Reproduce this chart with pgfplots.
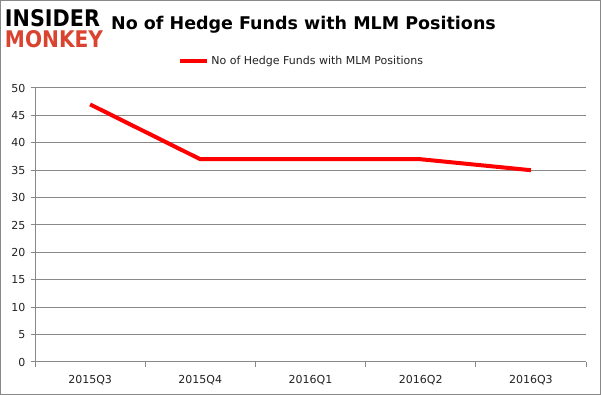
\documentclass[border=0pt]{standalone}
\usepackage{fontspec}
\setmainfont{DejaVu Sans}
\usepackage{graphicx}
\usepackage{pgfplots}
\pgfplotsset{compat=1.18}
\definecolor{gridgray}{HTML}{888888}
\definecolor{monkeyred}{HTML}{D9432F}
\definecolor{ticktext}{HTML}{222222}
\begin{document}
\begin{tikzpicture}[x=1pt,y=1pt]
\useasboundingbox (0pt,0pt) rectangle (601pt,395pt);
\fill[white] (0pt,0pt) rectangle (601pt,395pt);
\draw[gridgray,line width=1pt] (0.5pt,0.5pt) rectangle (600.5pt,394.5pt);
% logo
\node[inner sep=0pt] at (52.5pt,377pt) {\resizebox{95pt}{17pt}{\bfseries INSIDER}};
\node[inner sep=0pt] at (54pt,356pt) {\resizebox{98pt}{17pt}{\bfseries\color{monkeyred}MONKEY}};
% title
\node at (303.5pt,370.5pt) {\fontsize{17.5}{20}\selectfont\bfseries No of Hedge Funds with MLM Positions};
\begin{axis}[
  at={(35pt,33pt)}, anchor=south west,
  scale only axis, width=551pt, height=274pt,
  xmin=-0.5, xmax=4.5, ymin=0, ymax=50,
  axis x line*=bottom, axis y line*=left,
  axis line style={gridgray, line width=1pt},
  xtick={0,1,2,3,4},
  xticklabels={2015Q3,2015Q4,2016Q1,2016Q2,2016Q3},
  minor xtick={-0.5,0.5,1.5,2.5,3.5,4.5},
  major x tick style={draw=none},
  minor x tick style={gridgray, line width=1pt},
  minor tick length=5pt,
  ytick={0,5,...,50},
  major y tick style={gridgray, line width=1pt},
  major tick length=4pt,
  tick align=outside,
  ymajorgrids, grid style={gridgray, line width=1pt},
  x tick label style={font=\fontsize{11}{13}\selectfont, text=ticktext, yshift=-6pt},
  y tick label style={font=\fontsize{11}{13}\selectfont, text=ticktext, xshift=-2pt},
  /pgf/number format/assume math mode=true,
  legend style={at={(0.484,1.0985)}, anchor=center, draw=none, fill=none,
    inner sep=0pt, font=\fontsize{11}{13}\selectfont, text=ticktext},
  legend image code/.code={\draw[red, line width=4pt] (0pt,0pt) -- (27pt,0pt);},
  clip=false,
]
\addplot[red, line width=4pt] coordinates {(0,47) (1,37) (2,37) (3,37) (4,35)};
\addlegendentry{No of Hedge Funds with MLM Positions}
\end{axis}
\end{tikzpicture}
\end{document}
